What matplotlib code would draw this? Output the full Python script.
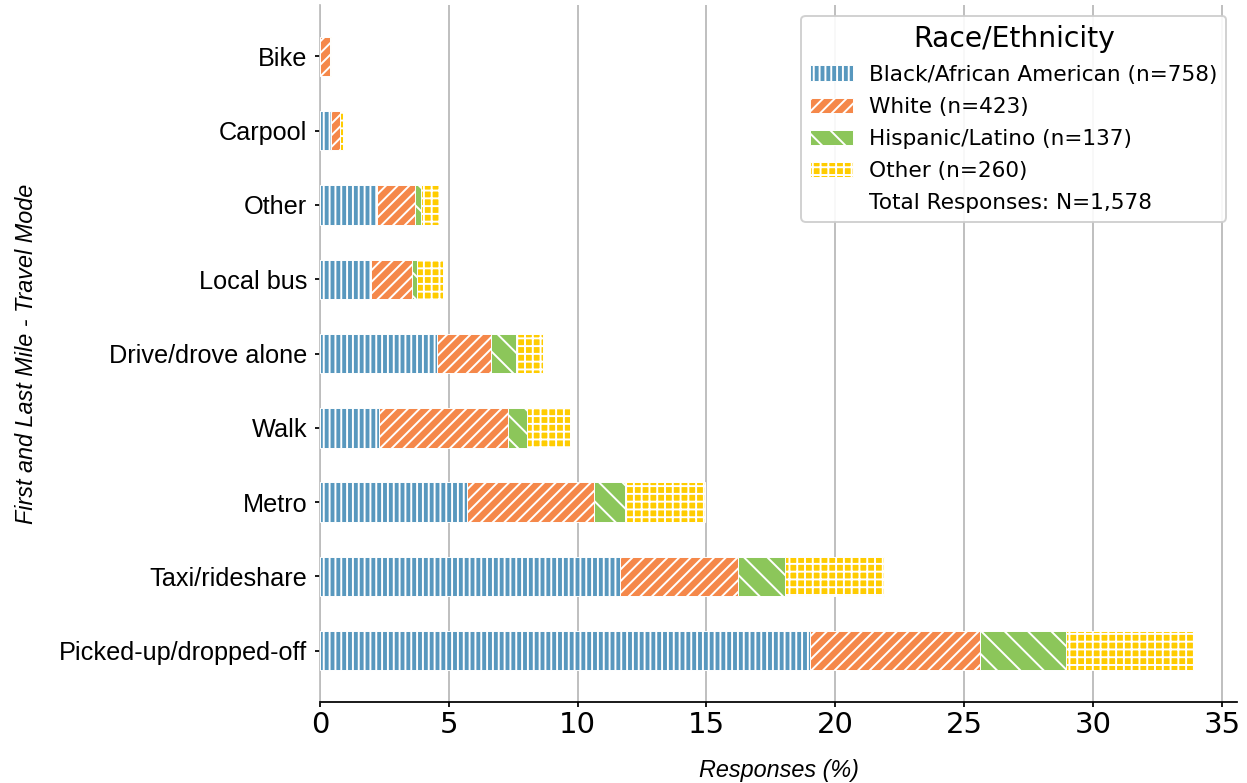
import matplotlib
matplotlib.use("Agg")
import matplotlib.pyplot as plt
import numpy as np
from matplotlib.patches import Rectangle

# First/last-mile travel mode by race/ethnicity, % of all responses
modes = ["Picked-up/dropped-off", "Taxi/rideshare", "Metro", "Walk",
         "Drive/drove alone", "Local bus", "Other", "Carpool", "Bike"]
black_pct = [19.01, 11.66, 5.70, 2.28, 4.53, 1.98, 2.22, 0.44, 0.00]
white_pct = [6.59, 4.56, 4.94, 5.03, 2.09, 1.58, 1.46, 0.32, 0.38]
hispanic_pct = [3.36, 1.84, 1.21, 0.74, 1.00, 0.19, 0.24, 0.00, 0.00]
other_pct = [4.94, 3.82, 3.11, 1.66, 1.03, 1.04, 0.70, 0.13, 0.06]

series_labels = ["Black/African American (n=758)", "White (n=423)",
                 "Hispanic/Latino (n=137)", "Other (n=260)"]
total_label = "Total Responses: N=1,578"

colors = ["#5898be", "#f5884a", "#8cc65a", "#ffcc00"]
hatches = ["||||", "////", "\\\\", "+++"]

DPI = 140
fig = plt.figure(figsize=(1247 / DPI, 783 / DPI), dpi=DPI)
ax = fig.add_axes([0.2566, 0.1035, 0.7355, 0.890])

y = np.arange(len(modes))
left = np.zeros(len(modes))
handles = []
for vals, lab, col, hat in zip([black_pct, white_pct, hispanic_pct, other_pct],
                               series_labels, colors, hatches):
    vals = np.array(vals)
    bars = ax.barh(y, vals, left=left, height=0.53, color=col,
                   edgecolor="white", linewidth=0.5, hatch=hat, label=lab,
                   zorder=3)
    handles.append(bars)
    left = left + vals

ax.set_ylim(-0.69, 8.69)
ax.set_axisbelow(True)
ax.grid(axis="x", color="#b8b8b8", linewidth=0.9, zorder=0)
ax.grid(axis="y", visible=False)

for s in ("top", "right"):
    ax.spines[s].set_visible(False)
ax.spines["left"].set_color("#bdbdbd")
ax.spines["left"].set_linewidth(0.9)
ax.spines["bottom"].set_color("black")
ax.spines["bottom"].set_linewidth(0.9)

ax.set_yticks(y)
ax.set_yticklabels(modes, fontfamily="Liberation Sans", fontsize=13)
ax.set_xticks(np.arange(0, 36, 5))
ax.tick_params(axis="y", length=2.5, width=0.9, pad=4, color="black")
ax.tick_params(axis="x", length=2.5, width=0.9, pad=2.0, labelsize=15,
               color="black")
for t in ax.get_xticklabels():
    t.set_fontfamily("DejaVu Sans")

ax.set_xlabel("Responses (%)", fontfamily="Liberation Sans", fontstyle="italic",
              fontsize=12, labelpad=10.5)
ax.set_ylabel("First and Last Mile - Travel Mode", fontfamily="Liberation Sans",
              fontstyle="italic", fontsize=12, labelpad=11)

blank = Rectangle((0, 0), 1, 1, fill=False, edgecolor="none", visible=False)
leg = ax.legend(handles + [blank], series_labels + [total_label],
                loc="upper right", title="Race/Ethnicity",
                prop={"family": "DejaVu Sans", "size": 11.1},
                title_fontproperties={"family": "DejaVu Sans", "size": 14.5},
                labelspacing=0.56, handletextpad=0.75,
                framealpha=0.9, edgecolor="#cccccc")

fig.savefig("out.png", dpi=DPI)
